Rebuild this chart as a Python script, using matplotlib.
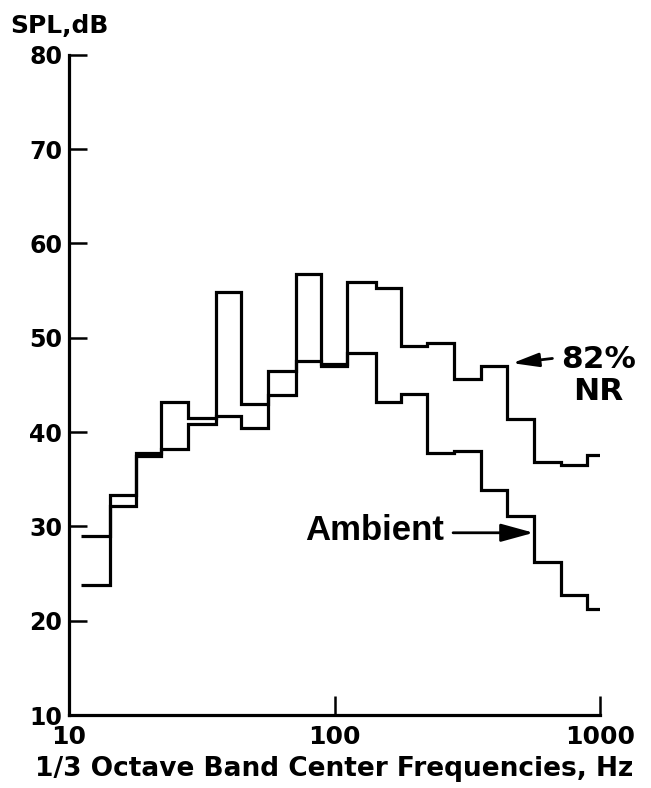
import numpy as np
import matplotlib
matplotlib.use("Agg")
import matplotlib.pyplot as plt

# 1/3 octave band centres, Hz
band_centers = [12.5, 16, 20, 25, 31.5, 40, 50, 63, 80, 100,
                125, 160, 200, 250, 315, 400, 500, 630, 800, 1000]

# SPL per band, dB
spl_nr = [29.0, 33.3, 37.8, 43.2, 41.5, 54.8, 43.0, 46.5, 56.7, 47.2,
          55.9, 55.3, 49.1, 49.4, 45.6, 47.0, 41.4, 36.8, 36.5, 37.6]
spl_ambient = [23.8, 32.2, 37.5, 38.2, 40.9, 41.7, 40.4, 43.9, 47.5, 47.0,
               48.4, 43.2, 44.0, 37.8, 38.0, 33.9, 31.1, 26.2, 22.7, 21.2]

x_ticks = [10, 100, 1000]
y_ticks = [10, 20, 30, 40, 50, 60, 70, 80]

# band edges at +-1/6 octave around the centres
centers = np.array(band_centers)
edges = np.append(centers * 2 ** (-1 / 6), centers[-1] * 2 ** (1 / 6))

fig = plt.figure(figsize=(6.51, 7.88), dpi=100)
ax = fig.add_axes([0.106, 0.0926, 0.816, 0.838])

lw = 2.3
for vals in (spl_nr, spl_ambient):
    st = ax.stairs(vals, edges, baseline=None, color="black", linewidth=lw)
    st.set_joinstyle("miter")
    st.set_capstyle("butt")

ax.set_xscale("log")
ax.set_xlim(10, 1000)
ax.set_ylim(10, 80)
ax.set_xticks(x_ticks)
ax.set_xticklabels([str(t) for t in x_ticks])
ax.set_yticks(y_ticks)
ax.minorticks_off()

for side in ("top", "right"):
    ax.spines[side].set_visible(False)
for side in ("left", "bottom"):
    ax.spines[side].set_linewidth(2.3)

ax.tick_params(axis="y", direction="in", length=13, width=1.8, pad=5,
               labelsize=17)
ax.tick_params(axis="x", direction="in", length=14, width=1.8, pad=7,
               labelsize=18)
for lab in ax.get_xticklabels() + ax.get_yticklabels():
    lab.set_fontweight("bold")
    lab.set_family("DejaVu Sans")

ax.set_xlabel("1/3 Octave Band Center Frequencies, Hz", fontsize=19,
              fontweight="bold", labelpad=5)
fig.text(10 / 651, 1 - 33 / 788, "SPL,dB", fontsize=18, fontweight="bold",
         ha="left", va="baseline")

# annotations
amb_y = 0.276
ax.text(0.444, 0.279, "Ambient", transform=ax.transAxes, ha="left",
        va="center", fontsize=25, fontweight="bold", family="Liberation Sans")
ax.annotate("", xy=(edges[17], 10 + amb_y * 70), xycoords="data",
            xytext=(0.723, amb_y), textcoords="axes fraction",
            arrowprops=dict(arrowstyle="-|>,head_length=2.0,head_width=0.55",
                            color="black", lw=2.0, shrinkA=0, shrinkB=0))

ax.text(0.996, 0.538, "82%", transform=ax.transAxes, ha="center",
        va="center", fontsize=22.5, fontweight="bold", clip_on=False)
ax.text(0.996, 0.490, "NR", transform=ax.transAxes, ha="center",
        va="center", fontsize=22.5, fontweight="bold", clip_on=False)
ax.annotate("", xy=(467, 47.3), xycoords="data",
            xytext=(0.910, 0.540), textcoords="axes fraction",
            arrowprops=dict(arrowstyle="-|>,head_length=1.6,head_width=0.42",
                            color="black", lw=2.0, shrinkA=0, shrinkB=0))

fig.savefig("out.png", dpi=100)
